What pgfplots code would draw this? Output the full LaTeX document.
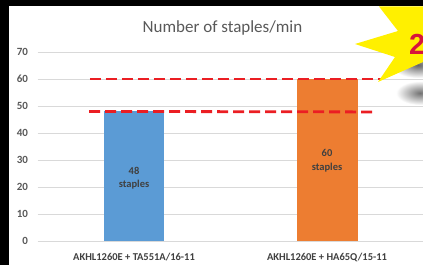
\documentclass[border=0pt]{standalone}
\usepackage{pgfplots}
\pgfplotsset{compat=1.18}
\usepackage{fontspec}
\setmainfont{Carlito}
\newfontfamily\arialfont{Liberation Sans}
\definecolor{bluebar}{RGB}{91,155,213}
\definecolor{orangebar}{RGB}{237,125,49}
\definecolor{dashred}{RGB}{235,30,35}
\definecolor{txtgray}{RGB}{89,89,89}
\definecolor{lbldark}{RGB}{64,64,64}
\definecolor{gridgray}{RGB}{217,217,217}
\definecolor{staryellow}{RGB}{255,240,0}
\definecolor{twored}{RGB}{215,20,60}
\begin{document}
\begin{tikzpicture}[x=1pt,y=1pt]
\useasboundingbox (0,0) rectangle (423,265);
\fill[black] (0,0) rectangle (423,265);
\fill[white] (9,0) rectangle (423,258.5);
% shadows behind star
\shade[inner color=black!60, outer color=white] (418,200) ellipse (26 and 13);
\shade[inner color=black!55, outer color=white] (420,172) ellipse (24 and 12);
\begin{axis}[
  at={(37.5pt,24pt)}, anchor=south west,
  scale only axis, width=386pt, height=189pt,
  xmin=-0.5, xmax=1.5, ymin=0, ymax=70,
  ytick={0,10,...,70},
  xtick={0,1},
  xticklabels={AKHL1260E + TA551A/16-11, AKHL1260E + HA65Q/15-11},
  axis line style={draw=none},
  major tick style={draw=none},
  ymajorgrids,
  grid style={gridgray, line width=0.9pt},
  /pgf/number format/assume math mode=true,
  yticklabel style={font=\fontsize{11}{12}\selectfont\bfseries, text=txtgray, xshift=-6pt},
  xticklabel style={font=\fontsize{10.5}{12}\selectfont\bfseries, text=lbldark, yshift=-8.5pt},
  clip=false,
]
\addplot[ybar, bar width=60pt, bar shift=0pt, fill=bluebar, draw=none] coordinates {(0,48)};
\addplot[ybar, bar width=61pt, bar shift=0pt, fill=orangebar, draw=none] coordinates {(1,60)};
\addplot[dashred, line width=2.8pt, dash pattern=on 11pt off 5pt] coordinates {(-0.228,60) (1.29,60)};
\addplot[dashred, line width=2.8pt, dash pattern=on 11pt off 5pt] coordinates {(-0.233,48) (1.254,47.8)};
\node[align=center, font=\fontsize{10.5}{13.5}\selectfont\bfseries, text=lbldark] at (axis cs:0,23.3) {48\\staples};
\node[align=center, font=\fontsize{10.5}{14.5}\selectfont\bfseries, text=lbldark] at (axis cs:1,29.8) {60\\staples};
\end{axis}
\node[font=\fontsize{17}{18}\selectfont, text=txtgray] at (222.5,237.5) {Number of staples/min};
% starburst
\fill[staryellow] (379,258.5) -- (398,234) -- (355,221) -- (395,208) -- (378,183) -- (423,203) -- (423,258.5) -- cycle;
\node[anchor=base west, inner sep=0pt, font=\arialfont\fontsize{29}{30}\selectfont\bfseries, text=twored] at (409,210) {2};
\fill[black] (0,258.5) rectangle (423,265);
\end{tikzpicture}
\end{document}
